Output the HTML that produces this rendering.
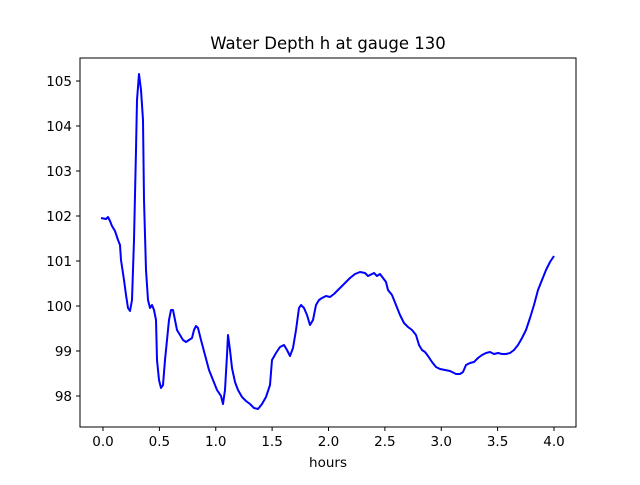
<!DOCTYPE html>
<html><head><meta charset="utf-8"><style>body{margin:0;background:#fff}</style></head><body>
<svg width="640" height="480" xmlns="http://www.w3.org/2000/svg" font-family="DejaVu Sans, Liberation Sans, sans-serif">
<rect width="640" height="480" fill="#fff"/>
<text x="328" y="49" font-size="16.5" text-anchor="middle">Water Depth h at gauge 130</text>
<polyline fill="none" stroke="#0000ff" stroke-width="2" stroke-linejoin="round" points="101,218 106,219 108,217 110,221 112,226 115,231 118,240 120,245 121,260 124,280 126,295 128,308 130,311 132,300 134,240 136,150 137,100 139,74 141,90 143,120 144,200 146,270 148,300 150,308 152,305 154,310 156,320 157,360 159,380 161,388 163,385 165,360 167,340 169,320 171,310 173,310 175,320 177,330 180,335 183,340 186,342 189,340 192,338 194,330 196,326 198,328 201,340 205,355 209,370 213,380 217,390 221,396 223,404 225,390 227,355 228,335 230,350 232,368 235,382 238,390 242,397 246,401 250,404 254,408 258,409 262,404 266,397 270,385 272,360 276,353 280,347 284,345 287,350 290,356 293,348 296,330 299,308 301,305 304,308 307,315 310,325 313,320 316,305 319,300 322,298 326,296 330,297 334,294 338,290 342,286 346,282 350,278 355,274 360,272 365,273 368,276 370,275 374,273 377,276 380,274 383,278 386,282 388,290 392,295 396,305 400,315 404,323 408,327 412,330 416,335 419,345 422,350 425,352 428,356 432,362 436,367 440,369 445,370 450,371 456,374 460,374 463,372 466,365 470,363 474,362 478,358 482,355 486,353 490,352 494,354 498,353 502,354 506,354 510,353 514,350 518,345 522,338 526,330 530,318 534,305 538,290 542,280 546,270 550,262 554,256"/>
<rect x="80" y="58" width="496" height="369" fill="none" stroke="#000" stroke-width="1"/>
<g stroke="#000" stroke-width="1">
<line x1="103" y1="427" x2="103" y2="431"/><line x1="159.4" y1="427" x2="159.4" y2="431"/><line x1="215.75" y1="427" x2="215.75" y2="431"/><line x1="272.1" y1="427" x2="272.1" y2="431"/><line x1="328.5" y1="427" x2="328.5" y2="431"/><line x1="384.9" y1="427" x2="384.9" y2="431"/><line x1="441.25" y1="427" x2="441.25" y2="431"/><line x1="497.6" y1="427" x2="497.6" y2="431"/><line x1="554" y1="427" x2="554" y2="431"/>
<line x1="76" y1="396" x2="80" y2="396"/><line x1="76" y1="351" x2="80" y2="351"/><line x1="76" y1="306" x2="80" y2="306"/><line x1="76" y1="261" x2="80" y2="261"/><line x1="76" y1="216" x2="80" y2="216"/><line x1="76" y1="171" x2="80" y2="171"/><line x1="76" y1="126" x2="80" y2="126"/><line x1="76" y1="81" x2="80" y2="81"/>
</g>
<g font-size="13.5" text-anchor="middle">
<text x="103" y="446">0.0</text><text x="159.4" y="446">0.5</text><text x="215.75" y="446">1.0</text><text x="272.1" y="446">1.5</text><text x="328.5" y="446">2.0</text><text x="384.9" y="446">2.5</text><text x="441.25" y="446">3.0</text><text x="497.6" y="446">3.5</text><text x="554" y="446">4.0</text>
<text x="328" y="467">hours</text>
</g>
<g font-size="13.5" text-anchor="end">
<text x="72" y="401">98</text><text x="72" y="356">99</text><text x="72" y="311">100</text><text x="72" y="266">101</text><text x="72" y="221">102</text><text x="72" y="176">103</text><text x="72" y="131">104</text><text x="72" y="86">105</text>
</g>
</svg>
</body></html>
